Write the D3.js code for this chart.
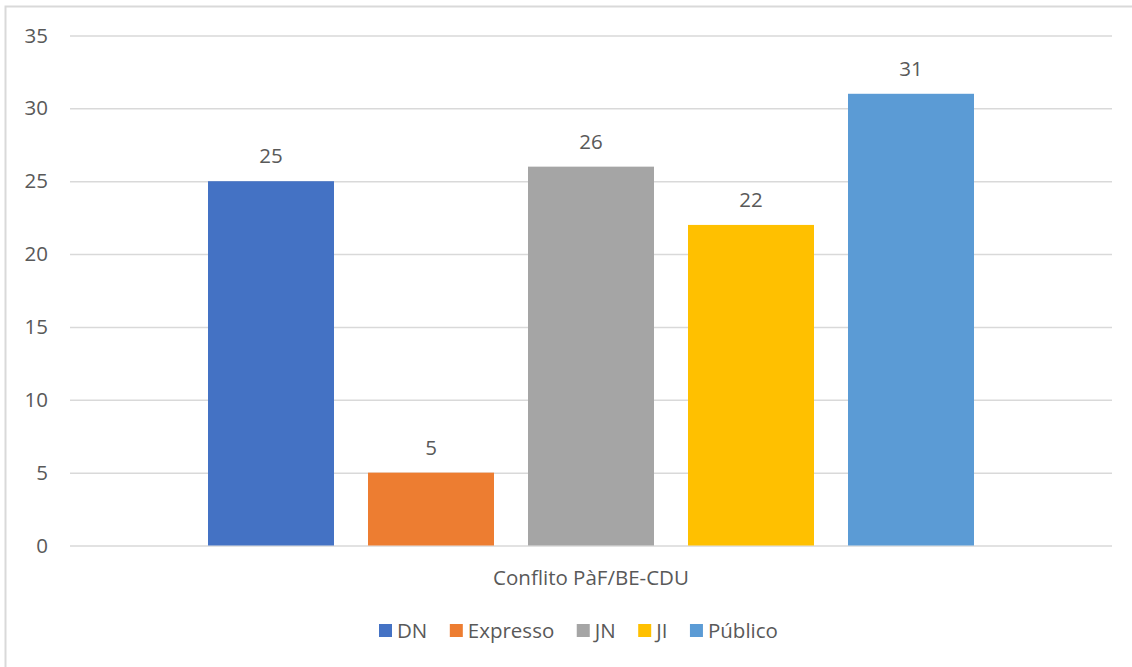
<!DOCTYPE html>
<html><head><meta charset="utf-8">
<script src="https://cdn.jsdelivr.net/npm/d3@7"></script>
<style>body{margin:0;background:#fff;}svg{display:block;font-family:"Open Sans","Noto Sans",sans-serif;}</style>
</head><body>
<svg id="c" width="1132" height="667"></svg>
<script>
const categories = ["Conflito PàF/BE-CDU"];
const series = ["DN", "Expresso", "JN", "JI", "Público"];
const values = [25, 5, 26, 22, 31];
const colors = ["#4472C4", "#ED7D31", "#A5A5A5", "#FFC000", "#5B9BD5"];
const yTicks = [0, 5, 10, 15, 20, 25, 30, 35];

(function () {
const svg = d3.select("#c");
const pLeft = 70, pRight = 1112, pTop = 35.5, pBottom = 545.5;
const textColor = "#595959";
const fs = 20.5;

// chart border (cropped)
svg.append("path").attr("d", "M5.5,667 V6.5 H1132").attr("fill", "none").attr("stroke", "#d9d9d9").attr("stroke-width", 2);

const y = d3.scaleLinear().domain([0, 35]).range([pBottom, pTop]);
const x0 = d3.scaleBand().domain(categories).range([pLeft, pRight]);
const x1 = d3.scaleBand().domain(series).range([0, x0.bandwidth()]).paddingInner(0.2125).paddingOuter(0.8625);

const yAxis = d3.axisLeft(y).tickValues(yTicks).tickSize(-(pRight - pLeft)).tickPadding(22);
const ga = svg.append("g").attr("transform", `translate(${pLeft},0)`).call(yAxis);
ga.select(".domain").remove();
ga.selectAll(".tick line").attr("stroke", "#d9d9d9").attr("stroke-width", 1.5);
ga.selectAll(".tick text").attr("fill", textColor).style("font-size", fs + "px").attr("font-family", "'Open Sans','Noto Sans',sans-serif");

const g = svg.append("g");
categories.forEach(cat => {
  series.forEach((s, i) => {
    const xx = x0(cat) + x1(s);
    g.append("rect").attr("x", xx).attr("y", y(values[i])).attr("width", x1.bandwidth())
      .attr("height", y(0) - y(values[i])).attr("fill", colors[i]);
    g.append("text").attr("x", xx + x1.bandwidth() / 2).attr("y", y(values[i]) - 18)
      .attr("text-anchor", "middle").attr("fill", textColor).style("font-size", fs + "px").text(values[i]);
  });
  svg.append("text").attr("x", x0(cat) + x0.bandwidth() / 2).attr("y", 585).attr("text-anchor", "middle")
    .attr("fill", textColor).style("font-size", fs + "px").text(cat);
});

// legend
const legend = svg.append("g");
let lx = 379;
series.forEach((s, i) => {
  legend.append("rect").attr("x", lx).attr("y", 624).attr("width", 13).attr("height", 13).attr("fill", colors[i]);
  const t = legend.append("text").attr("x", lx + 18).attr("y", 638).attr("fill", textColor).style("font-size", fs + "px").text(s);
  lx += 18 + t.node().getComputedTextLength() + 22.5;
});
})();
</script>
</body></html>
